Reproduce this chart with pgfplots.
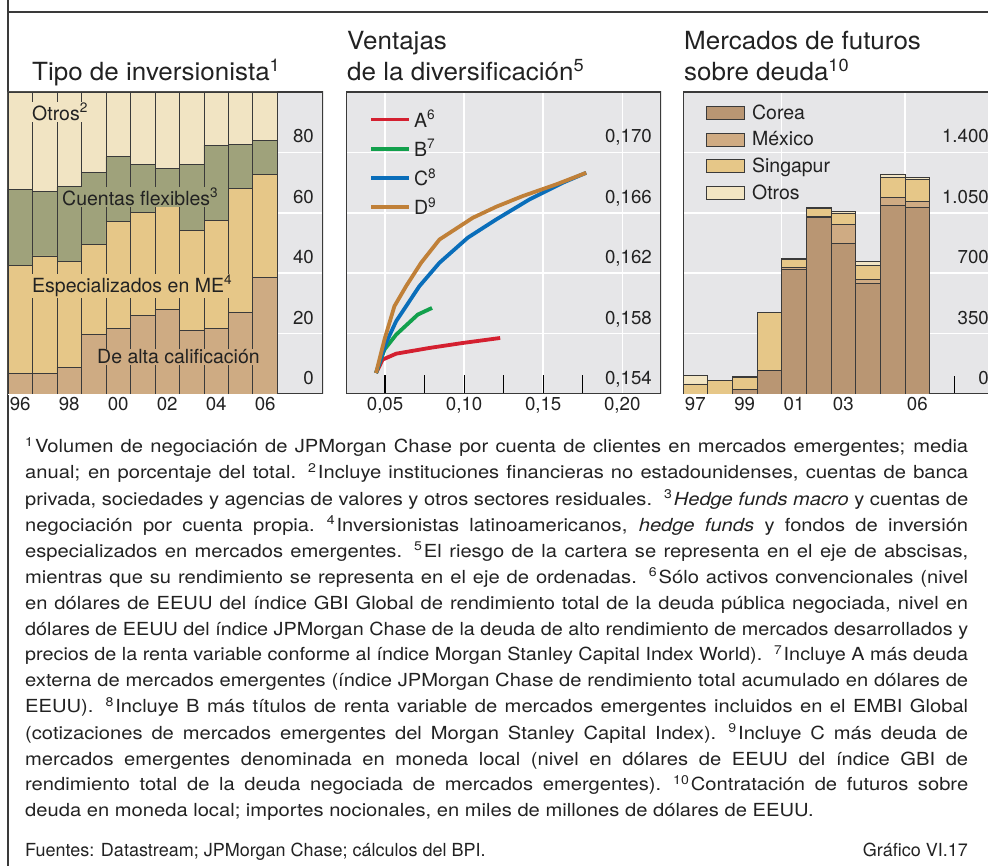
\documentclass[border=0pt]{standalone}
\usepackage{fontspec}
\setmainfont{TeX Gyre Heros}
\newfontfamily\notefont[FakeStretch=1.12]{TeX Gyre Heros}
\newfontfamily\titfont[FakeStretch=1.04]{TeX Gyre Heros}
\usepackage{graphicx}
\usepackage{pgfplots}
\pgfplotsset{compat=1.18}

\definecolor{bggray}{HTML}{E6E6E8}
\definecolor{framec}{HTML}{3A3A3A}
\definecolor{txt}{HTML}{222222}
\definecolor{cotros}{HTML}{F1E4C3}
\definecolor{ccuentas}{HTML}{9FA27B}
\definecolor{cespec}{HTML}{E6C788}
\definecolor{calta}{HTML}{CEAB83}
\definecolor{ccorea}{HTML}{B99673}
\definecolor{cmexico}{HTML}{CFAB83}
\definecolor{csing}{HTML}{E6C788}
\definecolor{cotrosb}{HTML}{F2E5C3}
\definecolor{lA}{HTML}{D42030}
\definecolor{lB}{HTML}{12A04C}
\definecolor{lC}{HTML}{0A6EBA}
\definecolor{lD}{HTML}{C08038}

\newcommand\ticksize{\fontsize{18.7}{22}\selectfont}
\newcommand\labsize{\fontsize{19.5}{23}\selectfont}
\newcommand\titsize{\titfont\fontsize{25}{31}\selectfont}
\newcommand\notesize{\notefont\fontsize{18}{26}\selectfont}
\newcommand\srcsize{\fontsize{18}{26}\selectfont}

% justified footnote lines: stretch spaces, or squeeze if too long
\newlength\jw
\setlength\jw{943pt}
\newsavebox\jbox
\newcommand\jline[1]{\sbox\jbox{#1}%
  \ifdim\wd\jbox>\jw\resizebox{\jw}{\height}{\usebox\jbox}%
  \else\makebox[\jw][s]{#1}\fi}
\newcommand\gap{\hspace{12pt}}
\newcommand\fn[1]{\textsuperscript{#1}\kern1.5pt}

\pgfplotsset{
  panel/.style={
    scale only axis, width=315pt, height=302pt, anchor=north west,
    axis background/.style={fill=bggray},
    axis line style={draw=none},
    tick label style={font=\ticksize, text=txt},
    xtick pos=left, ytick pos=right, yticklabel pos=right,
    yticklabel style={anchor=base east, xshift=-9pt, yshift=9.5pt, inner sep=0pt},
    ymajorgrids, grid style={white, line width=1.5pt},
    major tick length=0pt, minor tick length=0pt,
    tick style={black, line width=1.2pt},
    scaled ticks=false,
    /pgf/number format/assume math mode=true,
  },
  boxleg/.style={
    legend style={at={(0,1)}, anchor=north west, xshift=23pt,
      draw=none, fill=none, inner sep=0pt, font=\labsize, text=txt,
      row sep=6.5pt, nodes={inner sep=2pt}},
    legend cell align=left,
  },
}

\begin{document}
\begin{tikzpicture}
\useasboundingbox (0pt,0pt) rectangle (988pt,-866pt);

% outer frame pieces
\draw[framec, line width=1.3pt] (8pt,0pt) -- (8pt,-866pt);
\draw[framec, line width=1.3pt] (8pt,-12pt) -- (988pt,-12pt);

% titles
\begin{scope}[every node/.style={anchor=base west, inner sep=0pt, font=\titsize, text=txt}]
\node at (32pt,-81pt) {Tipo de inversionista\textsuperscript{1}};
\node at (347pt,-50pt) {Ventajas};
\node at (347pt,-81pt) {de la diversificación\textsuperscript{5}};
\node at (684pt,-50pt) {Mercados de futuros};
\node at (684pt,-81pt) {sobre deuda\textsuperscript{10}};
\end{scope}

% ---- panel 1: Tipo de inversionista
\begin{axis}[panel, at={(8pt,-92pt)},
  xmin=-0.5, xmax=12.36, ymin=0, ymax=100,
  ybar stacked, bar width=1,
  xtick={0,2,4,6,8,10}, xticklabels={96,98,00,02,04,06},
  ytick={0,20,40,60,80}, yticklabels={0,20,40,60,80},
  every axis plot/.append style={draw=framec, line width=0.9pt},
]
\addplot[fill=calta] coordinates {(0,6.9) (1,6.9) (2,8.9) (3,19.8) (4,21.8) (5,25.9) (6,27.9) (7,20.9) (8,21.8) (9,27.0) (10,38.5)};
\addplot[fill=cespec] coordinates {(0,35.8) (1,38.8) (2,34.9) (3,29.8) (4,35.2) (5,34.1) (6,34.1) (7,33.2) (8,35.6) (9,41.1) (10,34.2)};
\addplot[fill=ccuentas] coordinates {(0,25.1) (1,21.5) (2,24.8) (3,23.7) (4,21.5) (5,16.0) (6,12.7) (7,22.0) (8,25.0) (9,14.5) (10,11.1)};
\addplot[fill=cotros] coordinates {(0,32.2) (1,32.8) (2,31.4) (3,26.7) (4,21.5) (5,24.0) (6,25.3) (7,23.9) (8,17.6) (9,17.4) (10,16.2)};
\draw[framec, line width=1.3pt] (rel axis cs:0,0) rectangle (rel axis cs:1,1);
\end{axis}

\begin{scope}[every node/.style={anchor=west, inner sep=1pt, font=\labsize, text=txt}]
\node[fill=cotros] at (31pt,-112pt) {Otros\textsuperscript{2}};
\node[fill=ccuentas] at (61pt,-197pt) {Cuentas flexibles\textsuperscript{3}};
\node[fill=cespec] at (31pt,-286pt) {Especializados en ME\textsuperscript{4}};
\node[fill=calta] at (96pt,-357pt) {De alta calificación};
\end{scope}

% ---- panel 2: Ventajas de la diversificacion
\begin{axis}[panel, at={(346pt,-92pt)},
  xmin=0.0253, xmax=0.2245, ymin=0.154, ymax=0.174,
  xtick={0.05,0.1,0.15,0.2}, xticklabels={{0,05},{0,10},{0,15},{0,20}},
  ytick={0.154,0.158,0.162,0.166,0.170},
  yticklabels={{0,154},{0,158},{0,162},{0,166},{0,170}},
  xmajorgrids,
  minor xtick={0.05,0.075,0.1,0.125,0.15,0.175}, minor tick length=19pt,
  boxleg, legend style={yshift=-16pt, /tikz/every odd column/.append style={column sep=1pt}},
  legend image code/.code={\draw[#1, line width=3.8pt] (0pt,0pt) -- (38pt,0pt);},
  every axis plot/.append style={no marks, line width=3.8pt, line join=round},
]
\addplot[lA] coordinates {(0.0443,0.15539) (0.0485,0.15628) (0.0570,0.15667) (0.0781,0.15705) (0.0992,0.15738) (0.1228,0.15771)};
\addlegendentry{A\textsuperscript{6}}
\addplot[lB] coordinates {(0.0443,0.15539) (0.0496,0.15694) (0.0570,0.15793) (0.0707,0.15926) (0.0797,0.15970)};
\addlegendentry{B\textsuperscript{7}}
\addplot[lC] coordinates {(0.0443,0.15539) (0.0506,0.15738) (0.0570,0.15882) (0.0717,0.16114) (0.0844,0.16269) (0.1023,0.16435) (0.1203,0.16556) (0.1414,0.16689) (0.1624,0.16799) (0.1772,0.16865)};
\addlegendentry{C\textsuperscript{8}}
\addplot[lD] coordinates {(0.0443,0.15539) (0.0496,0.15760) (0.0559,0.15981) (0.0633,0.16114) (0.0728,0.16269) (0.0844,0.16423) (0.1055,0.16567) (0.1203,0.16640) (0.1371,0.16711) (0.1582,0.16788) (0.1772,0.16865)};
\addlegendentry{D\textsuperscript{9}}
\draw[framec, line width=1.3pt] (rel axis cs:0,0) rectangle (rel axis cs:1,1);
\end{axis}

% ---- panel 3: Mercados de futuros sobre deuda
\begin{axis}[panel, at={(683pt,-92pt)},
  xmin=-0.5, xmax=12.27, ymin=0, ymax=1750,
  ybar stacked, bar width=1,
  xtick={0,2,4,6,9}, xticklabels={97,99,01,03,06},
  ytick={0,350,700,1050,1400}, yticklabels={0,350,700,{1.050},{1.400}},
  minor xtick={3.5,8.5}, xminorgrids,
  extra x ticks={10.5}, extra x tick labels={},
  extra x tick style={major tick length=18pt, xmajorgrids=false},
  boxleg, legend style={yshift=-11pt, /tikz/every odd column/.append style={column sep=5pt}},
  legend image code/.code={\draw[#1] (0pt,-6.5pt) rectangle (38pt,6.5pt);},
  every axis plot/.append style={draw=framec, line width=0.9pt},
]
\addplot[fill=ccorea] coordinates {(0,0) (1,0) (2,25) (3,137) (4,724) (5,1025) (6,874) (7,639) (8,1094) (9,1083)};
\addlegendentry{Corea}
\addplot[fill=cmexico] coordinates {(0,0) (1,0) (2,0) (3,0) (4,8) (5,4) (6,108) (7,27) (8,44) (9,35)};
\addlegendentry{México}
\addplot[fill=csing] coordinates {(0,58) (1,77) (2,73) (3,334) (4,46) (5,46) (6,66) (7,81) (8,118) (9,124)};
\addlegendentry{Singapur}
\addplot[fill=cotrosb] coordinates {(0,48) (1,2) (2,2) (3,0) (4,8) (5,8) (6,12) (7,21) (8,19) (9,14)};
\addlegendentry{Otros}
\draw[framec, line width=1.3pt] (rel axis cs:0,0) rectangle (rel axis cs:1,1);
\end{axis}

% ---- notes
\node[anchor=base west, inner sep=0pt, text=txt] at (25pt,-453pt) {%
\begin{minipage}[t]{943pt}\notesize
\jline{\fn{1}Volumen de negociación de JPMorgan Chase por cuenta de clientes en mercados emergentes; media}\par
\jline{anual; en porcentaje del total.\gap \fn{2}Incluye instituciones financieras no estadounidenses, cuentas de banca}\par
\jline{privada, sociedades y agencias de valores y otros sectores residuales.\gap \fn{3}\textit{Hedge funds macro} y cuentas de}\par
\jline{negociación por cuenta propia.\gap \fn{4}Inversionistas latinoamericanos, \textit{hedge funds} y fondos de inversión}\par
\jline{especializados en mercados emergentes.\gap \fn{5}El riesgo de la cartera se representa en el eje de abscisas,}\par
\jline{mientras que su rendimiento se representa en el eje de ordenadas.\gap \fn{6}Sólo activos convencionales (nivel}\par
\jline{en dólares de EEUU del índice GBI Global de rendimiento total de la deuda pública negociada, nivel en}\par
\jline{dólares de EEUU del índice JPMorgan Chase de la deuda de alto rendimiento de mercados desarrollados y}\par
\jline{precios de la renta variable conforme al índice Morgan Stanley Capital Index World).\gap \fn{7}Incluye A más deuda}\par
\jline{externa de mercados emergentes (índice JPMorgan Chase de rendimiento total acumulado en dólares de}\par
\jline{EEUU).\gap \fn{8}Incluye B más títulos de renta variable de mercados emergentes incluidos en el EMBI Global}\par
\jline{(cotizaciones de mercados emergentes del Morgan Stanley Capital Index).\gap \fn{9}Incluye C más deuda de}\par
\jline{mercados emergentes denominada en moneda local (nivel en dólares de EEUU del índice GBI de}\par
\jline{rendimiento total de la deuda negociada de mercados emergentes).\gap \fn{10}Contratación de futuros sobre}\par
deuda en moneda local; importes nocionales, en miles de millones de dólares de EEUU.\par
\end{minipage}};
\node[anchor=base west, inner sep=0pt, text=txt, font=\srcsize] at (25pt,-856pt) {Fuentes: Datastream; JPMorgan Chase; cálculos del BPI.};
\node[anchor=base east, inner sep=0pt, text=txt, font=\srcsize] at (968pt,-856pt) {Gráfico VI.17};
\end{tikzpicture}
\end{document}
